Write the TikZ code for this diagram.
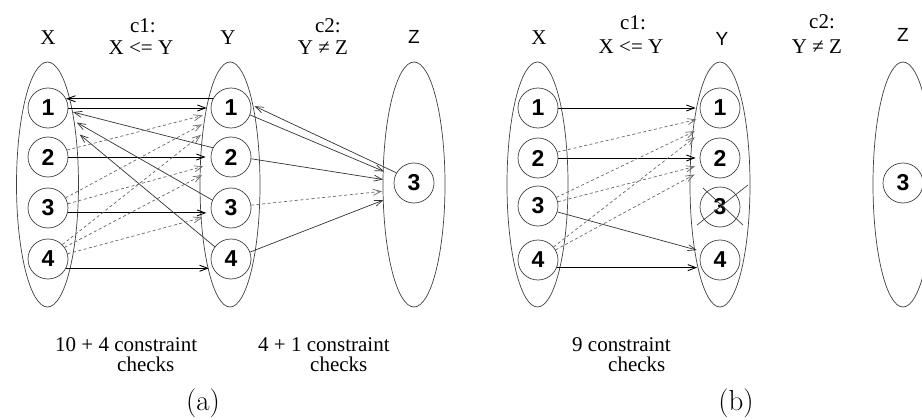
\documentclass[tikz,border=0pt]{standalone}
\usepackage{fontspec}
\newfontfamily\tms{Liberation Serif}
\newfontfamily\hsans{Liberation Sans}
\usetikzlibrary{shapes.geometric,arrows.meta,calc}
\tikzset{
  dom/.style={draw=black!75, line width=0.7pt, ellipse, inner sep=0pt, minimum width=61pt, minimum height=245pt},
  val/.style={draw=black!75, line width=0.7pt, circle, inner sep=0pt, minimum size=40pt, font=\hsans\bfseries\fontsize{23}{23}\selectfont},
  varlbl/.style={font=\tms\fontsize{21}{21}\selectfont, inner sep=0pt},
  varlblz/.style={font=\hsans\fontsize{19}{19}\selectfont, inner sep=0pt},
  txt/.style={font=\tms\fontsize{21}{20}\selectfont, inner sep=0pt},
  captxt/.style={font=\fontsize{29}{30}\selectfont, inner sep=0pt, anchor=base},
  arrtip/.style={-{Straight Barb[length=8pt,width=6pt]}},
  okh/.style={arrtip, line width=0.9pt, black},
  okd/.style={arrtip, line width=0.7pt, black!80},
  fail/.style={arrtip, line width=0.7pt, black!60, dash pattern=on 3pt off 2.5pt},
  crossline/.style={line width=0.7pt, black!75}
}
\begin{document}
\begin{tikzpicture}[x=1pt,y=-1pt]
\useasboundingbox (0,0) rectangle (922,420);
\clip (0,0) rectangle (922,420);
% ---------------- panel (a)
\node[dom, minimum width=62pt] (aex) at (47.5,184.5) {};
\node[dom, minimum width=60pt] (aey) at (230,184.5) {};
\node[dom, minimum width=62pt] (aez) at (414,184.5) {};
\node[val] (ax1) at (48,108) {1};
\node[val] (ax2) at (48,157) {2};
\node[val] (ax3) at (48,208) {3};
\node[val] (ax4) at (48,259) {4};
\node[val] (ay1) at (231,108) {1};
\node[val] (ay2) at (231,157) {2};
\node[val] (ay3) at (231,208) {3};
\node[val] (ay4) at (231,259) {4};
\node[val] (az3) at (414,183) {3};
\node[varlbl] (alx) at (48,38) {X};
\node[txt] (ac1) at (143,26) {c1:};
\node[txt] (ar1) at (141,48) {X <= Y};
\node[varlbl] (aly) at (228,38) {Y};
\node[txt] (ac2) at (328,26) {c2:};
\node[txt] (ar2) at (323,48) {Y ≠ Z};
\node[varlblz] (alz) at (414,37) {Z};
\node[txt, align=left, anchor=north west] (acnt1) at (55,337) {10 + 4 constraint\\\hspace*{62pt}checks};
\node[txt, align=left, anchor=north west] (acnt2) at (258,337) {4 + 1 constraint\\\hspace*{52pt}checks};
\node[captxt] (acap) at (203,410) {(a)};
% c1 arcs
\draw[okh] (ay1.153) -- (ax1.27);
\draw[okh, shorten >=4pt] (ax1.east) -- (ay1.west);
\draw[okh, shorten >=5pt] (ax2.east) -- (ay2.west);
\draw[okh, shorten >=5pt] (ax3.-14) -- (ay3.194);
\draw[okh, shorten >=4pt] (ax4.-27) -- (ay4.207);
\draw[okd, shorten >=5pt] (ay2.153) -- (ax1.-8);
\draw[okd, shorten >=12pt] (ay3.157) -- (ax1.-25);
\draw[okd, shorten >=21pt] (ay4.143) -- (ax1.-40);
\draw[fail, shorten >=9pt] (ax2.20) -- (ay1.195);
\draw[fail, shorten >=13pt] (ax3.30) -- (ay1.210);
\draw[fail, shorten >=9pt] (ax3.12) -- (ay2.200);
\draw[fail, shorten >=20pt] (ax4.45) -- (ay1.225);
\draw[fail, shorten >=14pt] (ax4.35) -- (ay2.215);
\draw[fail, shorten >=10pt] (ax4.15) -- (ay3.200);
% c2 arcs
\draw[okd, shorten >=4pt] (az3.150) -- (ay1.10);
\draw[okd, shorten >=12pt] (ay1.-20) -- (az3.160);
\draw[okd, shorten >=11pt] (ay2.-5) -- (az3.175);
\draw[fail, shorten >=13pt] (ay3.8) -- (az3.200);
\draw[okd, shorten >=15pt] (ay4.20) -- (az3.215);
% ---------------- panel (b)
\node[dom, minimum width=61pt] (bex) at (537.5,184.5) {};
\node[dom, minimum width=60pt] (bey) at (720,184.5) {};
\node[dom, minimum width=60pt] (bez) at (903,184.5) {};
\node[val] (bx1) at (538,108) {1};
\node[val] (bx2) at (538,158) {2};
\node[val] (bx3) at (538,206) {3};
\node[val] (bx4) at (538,260) {4};
\node[val] (by1) at (720,108) {1};
\node[val] (by2) at (720,158) {2};
\node[val] (by3) at (720,207) {3};
\node[val] (by4) at (720,260) {4};
\node[val] (bz3) at (903,183) {3};
\node[varlbl] (blx) at (539,38) {X};
\node[txt] (bc1) at (633,23) {c1:};
\node[txt] (br1) at (631,47) {X <= Y};
\node[varlblz] (bly) at (722,39) {Y};
\node[txt] (bc2) at (822,22) {c2:};
\node[txt] (br2) at (817,47) {Y ≠ Z};
\node[varlblz] (blz) at (903,35) {Z};
\node[txt, align=left, anchor=north west] (bcnt) at (572,337) {9 constraint\\\hspace*{36pt}checks};
\node[captxt] (bcap) at (736,410) {(b)};
\draw[okh, shorten >=4pt] (bx1.east) -- (by1.west);
\draw[okh, shorten >=4pt] (bx2.east) -- (by2.west);
\draw[okd, shorten >=5pt] (bx3.-17) -- (by4.155);
\draw[okh, shorten >=4pt] (bx4.-22) -- (by4.202);
\draw[fail, shorten >=6pt] (bx2.17) -- (by1.210);
\draw[fail, shorten >=15pt] (bx3.25) -- (by1.235);
\draw[fail, shorten >=6pt] (bx3.12) -- (by2.200);
\draw[fail, shorten >=19pt] (bx4.40) -- (by1.240);
\draw[fail, shorten >=10pt] (bx4.30) -- (by2.215);
\draw[crossline] ($(by3)+(-23,18)$) -- ($(by3)+(28,-22)$);
\draw[crossline] ($(by3)+(-17,-19)$) -- ($(by3)+(23,18)$);
\end{tikzpicture}
\end{document}
